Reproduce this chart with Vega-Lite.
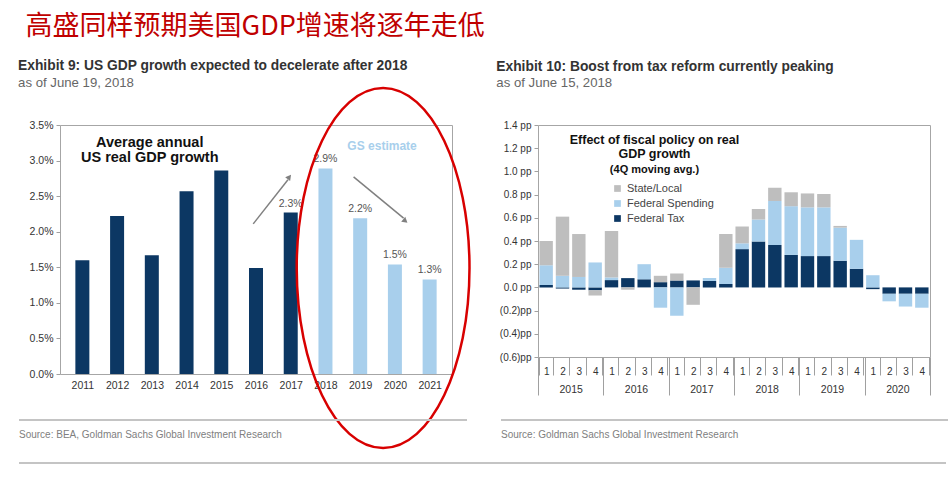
{
  "$schema": "https://vega.github.io/schema/vega-lite/v6.json",
  "background": "white",
  "padding": {"left": 17, "top": 12, "right": 5, "bottom": 0},
  "title": {
    "text": "高盛同样预期美国GDP增速将逐年走低",
    "font": "Noto Sans CJK SC",
    "fontSize": 27,
    "fontWeight": "normal",
    "color": "#C00000",
    "anchor": "start",
    "frame": "bounds",
    "dx": 8,
    "offset": 18
  },
  "config": {
    "view": {"stroke": null},
    "font": "Liberation Sans",
    "axis": {"labelFont": "Liberation Sans", "labelColor": "#333", "labelFontSize": 10.5, "labelOverlap": false, "domainColor": "#a0a0a0", "tickColor": "#a0a0a0", "grid": false},
    "legend": {"labelFont": "Liberation Sans"},
    "title": {
      "font": "Liberation Sans",
      "anchor": "start",
      "frame": "bounds",
      "color": "#333",
      "fontSize": 13.8,
      "fontWeight": "bold",
      "subtitleFont": "Liberation Sans",
      "subtitleFontSize": 13.2,
      "subtitleColor": "#666",
      "subtitlePadding": 3.5
    }
  },
  "bounds": "flush",
  "spacing": 295,
  "vconcat": [
    {
      "spacing": 19,
      "resolve": {"scale": {"color": "independent"}},
      "hconcat": [
        {
          "width": 392,
          "height": 249,
          "view": {"stroke": "#a6a6a6"},
          "title": {"text": "Exhibit 9: US GDP growth expected to decelerate after 2018", "subtitle": "as of June 19, 2018", "dx": -11, "offset": -6},
          "data": {"values": [
            {"year": 2011, "value": 1.6, "type": "Actual"},
            {"year": 2012, "value": 2.22, "type": "Actual"},
            {"year": 2013, "value": 1.67, "type": "Actual"},
            {"year": 2014, "value": 2.57, "type": "Actual"},
            {"year": 2015, "value": 2.86, "type": "Actual"},
            {"year": 2016, "value": 1.49, "type": "Actual"},
            {"year": 2017, "value": 2.27, "type": "Actual"},
            {"year": 2018, "value": 2.89, "type": "GS estimate"},
            {"year": 2019, "value": 2.19, "type": "GS estimate"},
            {"year": 2020, "value": 1.54, "type": "GS estimate"},
            {"year": 2021, "value": 1.33, "type": "GS estimate"}
          ]},
          "layer": [
            {
              "mark": {"type": "bar", "size": 14},
              "encoding": {
                "x": {"field": "year", "type": "quantitative", "title": null,
                  "scale": {"domain": [2010.5, 2021.5], "nice": false, "zero": false},
                  "axis": {"values": [2011, 2012, 2013, 2014, 2015, 2016, 2017, 2018, 2019, 2020, 2021], "tickCount": 30, "format": "d", "ticks": false, "labelPadding": 6, "domain": false, "labelOverlap": false, "labelFlush": false}},
                "y": {"field": "value", "type": "quantitative", "title": null,
                  "scale": {"domain": [0, 3.5], "nice": false},
                  "axis": {"values": [0, 0.5, 1, 1.5, 2, 2.5, 3, 3.5], "tickCount": 30, "labelExpr": "format(datum.value, '.1f') + '%'", "tickSize": 4, "labelPadding": 3, "domain": false, "labelOverlap": false, "labelFlush": false}},
                "color": {"field": "type", "type": "nominal", "legend": null,
                  "scale": {"domain": ["Actual", "GS estimate"], "range": ["#0C3763", "#A8CFEC"]}}
              }
            },
            {
              "transform": [
                {"filter": "datum.year >= 2017"},
                {"calculate": "format(datum.value, '.1f') + '%'", "as": "label"}
              ],
              "mark": {"type": "text", "dy": -9, "fontSize": 10.5, "color": "#555"},
              "encoding": {
                "x": {"field": "year", "type": "quantitative"},
                "y": {"field": "value", "type": "quantitative"},
                "text": {"field": "label"}
              }
            },
            {
              "data": {"values": [{}]},
              "mark": {"type": "text", "text": ["Average annual", "US real GDP growth"], "fontSize": 14.5, "fontWeight": "bold", "color": "#111", "lineHeight": 15, "baseline": "top", "align": "center"},
              "encoding": {"x": {"datum": 2012.94, "type": "quantitative"}, "y": {"datum": 3.35, "type": "quantitative"}}
            },
            {
              "data": {"values": [{}]},
              "mark": {"type": "text", "text": "GS estimate", "fontSize": 12, "fontWeight": "bold", "color": "#A8CFEC", "baseline": "middle", "align": "center"},
              "encoding": {"x": {"datum": 2019.63, "type": "quantitative"}, "y": {"datum": 3.21, "type": "quantitative"}}
            },
            {
              "data": {"values": [{}]},
              "mark": {"type": "rule", "color": "#808080", "strokeWidth": 1.5},
              "encoding": {"x": {"datum": 2015.92, "type": "quantitative"}, "y": {"datum": 2.11, "type": "quantitative"}, "x2": {"datum": 2016.92}, "y2": {"datum": 2.73}}
            },
            {
              "data": {"values": [{}]},
              "mark": {"type": "point", "shape": "triangle-up", "filled": true, "color": "#808080", "size": 40, "angle": 38, "opacity": 1},
              "encoding": {"x": {"datum": 2016.96, "type": "quantitative"}, "y": {"datum": 2.77, "type": "quantitative"}}
            },
            {
              "data": {"values": [{}]},
              "mark": {"type": "rule", "color": "#808080", "strokeWidth": 1.5},
              "encoding": {"x": {"datum": 2018.81, "type": "quantitative"}, "y": {"datum": 2.77, "type": "quantitative"}, "x2": {"datum": 2020.25}, "y2": {"datum": 2.19}}
            },
            {
              "data": {"values": [{}]},
              "mark": {"type": "point", "shape": "triangle-up", "filled": true, "color": "#808080", "size": 40, "angle": 130, "opacity": 1},
              "encoding": {"x": {"datum": 2020.3, "type": "quantitative"}, "y": {"datum": 2.15, "type": "quantitative"}}
            },
            {
              "data": {"values": [{}]},
              "mark": {"type": "point", "shape": "M0,-1C0.265,-1,0.48,-0.5523,0.48,0C0.48,0.5523,0.265,1,0,1C-0.265,1,-0.48,0.5523,-0.48,0C-0.48,-0.5523,-0.265,-1,0,-1Z", "size": 129600, "filled": false, "stroke": "#D80000", "strokeWidth": 2.5, "opacity": 1},
              "encoding": {"x": {"datum": 2019.66, "type": "quantitative"}, "y": {"datum": 1.49, "type": "quantitative"}}
            }
          ]
        },
        {
          "width": 392,
          "height": 232,
          "view": {"stroke": "#a6a6a6"},
          "title": {"text": "Exhibit 10: Boost from tax reform currently peaking", "subtitle": "as of June 15, 2018", "dx": -3, "offset": 31},
          "resolve": {"scale": {"x": "independent"}, "axis": {"x": "independent"}},
          "layer": [
            {
              "data": {"values": [
                {"p": "2015-1", "c": "Federal Tax", "v": 0.02}, {"p": "2015-1", "c": "Federal Spending", "v": 0.17}, {"p": "2015-1", "c": "State/Local", "v": 0.21},
                {"p": "2015-2", "c": "Federal Tax", "v": -0.01}, {"p": "2015-2", "c": "Federal Spending", "v": 0.10}, {"p": "2015-2", "c": "State/Local", "v": 0.51},
                {"p": "2015-3", "c": "Federal Tax", "v": -0.02}, {"p": "2015-3", "c": "Federal Spending", "v": 0.09}, {"p": "2015-3", "c": "State/Local", "v": 0.37},
                {"p": "2015-4", "c": "Federal Tax", "v": -0.025}, {"p": "2015-4", "c": "Federal Spending", "v": 0.215}, {"p": "2015-4", "c": "State/Local", "v": -0.045},
                {"p": "2016-1", "c": "Federal Tax", "v": 0.063}, {"p": "2016-1", "c": "Federal Spending", "v": 0.023}, {"p": "2016-1", "c": "State/Local", "v": 0.40},
                {"p": "2016-2", "c": "Federal Tax", "v": 0.08}, {"p": "2016-2", "c": "Federal Spending", "v": 0.0}, {"p": "2016-2", "c": "State/Local", "v": -0.02},
                {"p": "2016-3", "c": "Federal Tax", "v": 0.07}, {"p": "2016-3", "c": "Federal Spending", "v": 0.13}, {"p": "2016-3", "c": "State/Local", "v": 0.0},
                {"p": "2016-4", "c": "Federal Tax", "v": 0.045}, {"p": "2016-4", "c": "Federal Spending", "v": -0.175}, {"p": "2016-4", "c": "State/Local", "v": 0.055},
                {"p": "2017-1", "c": "Federal Tax", "v": 0.06}, {"p": "2017-1", "c": "Federal Spending", "v": -0.245}, {"p": "2017-1", "c": "State/Local", "v": 0.06},
                {"p": "2017-2", "c": "Federal Tax", "v": 0.06}, {"p": "2017-2", "c": "Federal Spending", "v": 0.0}, {"p": "2017-2", "c": "State/Local", "v": -0.15},
                {"p": "2017-3", "c": "Federal Tax", "v": 0.055}, {"p": "2017-3", "c": "Federal Spending", "v": 0.025}, {"p": "2017-3", "c": "State/Local", "v": 0.0},
                {"p": "2017-4", "c": "Federal Tax", "v": 0.03}, {"p": "2017-4", "c": "Federal Spending", "v": 0.14}, {"p": "2017-4", "c": "State/Local", "v": 0.29},
                {"p": "2018-1", "c": "Federal Tax", "v": 0.33}, {"p": "2018-1", "c": "Federal Spending", "v": 0.05}, {"p": "2018-1", "c": "State/Local", "v": 0.145},
                {"p": "2018-2", "c": "Federal Tax", "v": 0.395}, {"p": "2018-2", "c": "Federal Spending", "v": 0.19}, {"p": "2018-2", "c": "State/Local", "v": 0.09},
                {"p": "2018-3", "c": "Federal Tax", "v": 0.365}, {"p": "2018-3", "c": "Federal Spending", "v": 0.38}, {"p": "2018-3", "c": "State/Local", "v": 0.115},
                {"p": "2018-4", "c": "Federal Tax", "v": 0.28}, {"p": "2018-4", "c": "Federal Spending", "v": 0.42}, {"p": "2018-4", "c": "State/Local", "v": 0.12},
                {"p": "2019-1", "c": "Federal Tax", "v": 0.27}, {"p": "2019-1", "c": "Federal Spending", "v": 0.42}, {"p": "2019-1", "c": "State/Local", "v": 0.12},
                {"p": "2019-2", "c": "Federal Tax", "v": 0.27}, {"p": "2019-2", "c": "Federal Spending", "v": 0.42}, {"p": "2019-2", "c": "State/Local", "v": 0.115},
                {"p": "2019-3", "c": "Federal Tax", "v": 0.23}, {"p": "2019-3", "c": "Federal Spending", "v": 0.285}, {"p": "2019-3", "c": "State/Local", "v": 0.015},
                {"p": "2019-4", "c": "Federal Tax", "v": 0.16}, {"p": "2019-4", "c": "Federal Spending", "v": 0.25}, {"p": "2019-4", "c": "State/Local", "v": 0.0},
                {"p": "2020-1", "c": "Federal Tax", "v": -0.015}, {"p": "2020-1", "c": "Federal Spending", "v": 0.105}, {"p": "2020-1", "c": "State/Local", "v": 0.0},
                {"p": "2020-2", "c": "Federal Tax", "v": -0.055}, {"p": "2020-2", "c": "Federal Spending", "v": -0.065}, {"p": "2020-2", "c": "State/Local", "v": 0.0},
                {"p": "2020-3", "c": "Federal Tax", "v": -0.055}, {"p": "2020-3", "c": "Federal Spending", "v": -0.11}, {"p": "2020-3", "c": "State/Local", "v": 0.0},
                {"p": "2020-4", "c": "Federal Tax", "v": -0.055}, {"p": "2020-4", "c": "Federal Spending", "v": -0.12}, {"p": "2020-4", "c": "State/Local", "v": 0.0}
              ]},
              "transform": [
                {"calculate": "indexof(['Federal Tax', 'Federal Spending', 'State/Local'], datum.c)", "as": "ord"}
              ],
              "layer": [
                {
                  "mark": {"type": "bar"},
                  "encoding": {
                    "x": {"field": "p", "type": "ordinal", "title": null,
                      "scale": {"paddingInner": 0.18, "paddingOuter": 0.09},
                      "axis": {"orient": "bottom", "offset": 0, "labelExpr": "isString(datum.value) ? substring(datum.value, 5) : ''", "labelAngle": 0, "tickBand": "extent", "tickSize": 18, "labelPadding": -9, "domain": false, "labelFontSize": 10, "labelOverlap": false}},
                    "y": {"field": "v", "type": "quantitative", "title": null, "stack": "zero",
                      "scale": {"domain": [-0.6, 1.4], "nice": false},
                      "axis": {"values": [-0.6, -0.4, -0.2, 0, 0.2, 0.4, 0.6, 0.8, 1, 1.2, 1.4], "tickCount": 30, "labelExpr": "datum.value < 0 ? '(' + format(-datum.value, '.1f') + ')pp' : format(datum.value, '.1f') + ' pp'", "tickSize": 4, "labelPadding": 3, "domain": false, "labelFontSize": 10, "labelOverlap": false, "labelFlush": false}},
                    "color": {"field": "c", "type": "nominal",
                      "scale": {"domain": ["State/Local", "Federal Spending", "Federal Tax"], "range": ["#BEBEBE", "#A8CFEC", "#0C3763"]},
                      "legend": {"orient": "none", "legendX": 74, "legendY": 58, "title": null, "symbolType": "square", "symbolSize": 45, "labelFontSize": 11, "labelColor": "#444", "rowPadding": 3}},
                    "order": {"field": "ord", "type": "quantitative"}
                  }
                },
                {
                  "data": {"values": [{}]},
                  "mark": {"type": "text", "text": ["Effect of fiscal policy on real", "GDP growth"], "fontSize": 12.5, "fontWeight": "bold", "color": "#111", "lineHeight": 13.5, "baseline": "top", "align": "center"},
                  "encoding": {"x": {"datum": "2016-4", "bandPosition": 0.05, "type": "ordinal"}, "y": {"datum": 1.32, "type": "quantitative"}}
                },
                {
                  "data": {"values": [{}]},
                  "mark": {"type": "text", "text": "(4Q moving avg.)", "fontSize": 11, "fontWeight": "bold", "color": "#111", "baseline": "middle", "align": "center"},
                  "encoding": {"x": {"datum": "2016-4", "bandPosition": 0.05, "type": "ordinal"}, "y": {"datum": 1.015, "type": "quantitative"}}
                }
              ]
            },
            {
              "data": {"values": [{"year": "2015"}, {"year": "2016"}, {"year": "2017"}, {"year": "2018"}, {"year": "2019"}, {"year": "2020"}]},
              "mark": {"type": "bar", "opacity": 0},
              "encoding": {
                "x": {"field": "year", "type": "ordinal", "title": null,
                  "scale": {"type": "band", "paddingInner": 0, "paddingOuter": 0},
                  "axis": {"orient": "bottom", "offset": 0, "tickBand": "extent", "tickSize": 38, "labelPadding": -11, "domain": false, "labelFontSize": 10.5, "labelAngle": 0, "labelOverlap": false}}
              }
            }
          ]
        }
      ]
    },
    {
      "spacing": 22,
      "vconcat": [
        {
          "spacing": 32,
          "hconcat": [
            {
              "width": 392,
              "height": 1,
              "data": {"values": [{}]},
              "title": {"text": "Source: BEA, Goldman Sachs Global Investment Research", "orient": "bottom", "anchor": "start", "frame": "group", "dx": -41, "offset": 9, "fontSize": 10, "fontWeight": "normal", "color": "#808080"},
              "mark": {"type": "rule", "color": "#c4c4c4", "strokeWidth": 2},
              "encoding": {
                "x": {"datum": 0, "type": "quantitative", "scale": {"domain": [0, 1], "range": [-41, 407]}, "axis": null},
                "x2": {"datum": 1},
                "y": {"datum": 1, "type": "quantitative", "scale": {"domain": [0, 1]}, "axis": null}
              }
            },
            {
              "width": 392,
              "height": 1,
              "data": {"values": [{}]},
              "title": {"text": "Source: Goldman Sachs Global Investment Research", "orient": "bottom", "anchor": "start", "frame": "group", "dx": -42, "offset": 9, "fontSize": 10, "fontWeight": "normal", "color": "#808080"},
              "mark": {"type": "rule", "color": "#c4c4c4", "strokeWidth": 2},
              "encoding": {
                "x": {"datum": 0, "type": "quantitative", "scale": {"domain": [0, 1], "range": [-42, 405]}, "axis": null},
                "x2": {"datum": 1},
                "y": {"datum": 1, "type": "quantitative", "scale": {"domain": [0, 1]}, "axis": null}
              }
            }
          ]
        },
        {
          "width": 392,
          "height": 1,
          "data": {"values": [{}]},
          "mark": {"type": "rule", "color": "#c4c4c4", "strokeWidth": 2},
          "encoding": {
            "x": {"datum": 0, "type": "quantitative", "scale": {"domain": [0, 1], "range": [-41, 886]}, "axis": null},
            "x2": {"datum": 1},
            "y": {"datum": 1, "type": "quantitative", "scale": {"domain": [0, 1]}, "axis": null}
          }
        }
      ]
    }
  ]
}
